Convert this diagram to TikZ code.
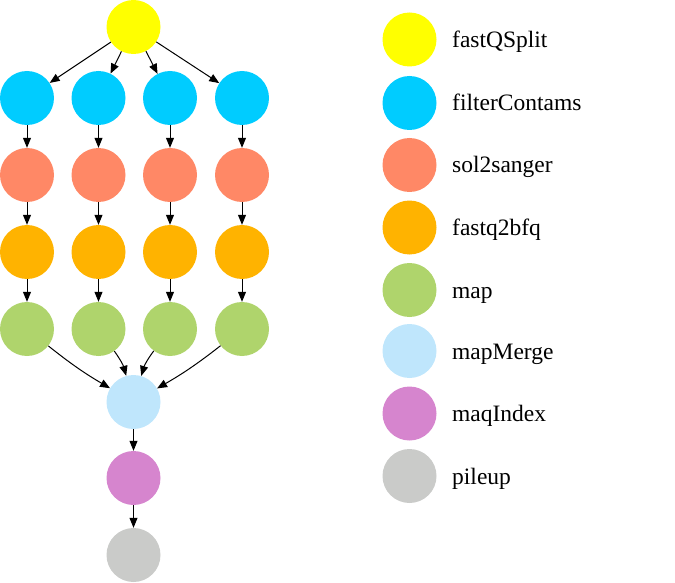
\documentclass[tikz,border=0pt]{standalone}
\usepackage{fontspec}
\setmainfont{Liberation Serif}
\usetikzlibrary{arrows.meta}

\definecolor{splitcol}{HTML}{FFFF00}
\definecolor{filtcol}{HTML}{00CCFF}
\definecolor{solcol}{HTML}{FF8866}
\definecolor{bfqcol}{HTML}{FFB300}
\definecolor{mapcol}{HTML}{AFD46C}
\definecolor{mergecol}{HTML}{BFE6FC}
\definecolor{indexcol}{HTML}{D685CE}
\definecolor{pileupcol}{HTML}{CACBC9}

\begin{document}
\begin{tikzpicture}
        [x=1pt, y=-1pt, job/.style={circle, minimum size=54pt, inner sep=0pt},
        edge/.style={line width=1pt, black, -{Triangle[length=10pt, width=8pt]}},
        legendtext/.style={anchor=base west, inner sep=0pt, font=\fontsize{23.5}{28}\selectfont}]

        \useasboundingbox (0,0) rectangle (675,583);

        \node[job, fill=splitcol] (split) at (133.5,27) {};

        \node[job, fill=filtcol] (filt1) at (27,98) {};
        \node[job, fill=filtcol] (filt2) at (98.5,98) {};
        \node[job, fill=filtcol] (filt3) at (170,98) {};
        \node[job, fill=filtcol] (filt4) at (242,98) {};

        \node[job, fill=solcol] (sol1) at (27,175) {};
        \node[job, fill=solcol] (sol2) at (98.5,175) {};
        \node[job, fill=solcol] (sol3) at (170,175) {};
        \node[job, fill=solcol] (sol4) at (242,175) {};

        \node[job, fill=bfqcol] (bfq1) at (27,252) {};
        \node[job, fill=bfqcol] (bfq2) at (98.5,252) {};
        \node[job, fill=bfqcol] (bfq3) at (170,252) {};
        \node[job, fill=bfqcol] (bfq4) at (242,252) {};

        \node[job, fill=mapcol] (map1) at (27,329) {};
        \node[job, fill=mapcol] (map2) at (98.5,329) {};
        \node[job, fill=mapcol] (map3) at (170,329) {};
        \node[job, fill=mapcol] (map4) at (242,329) {};

        \node[job, fill=mergecol] (merge) at (133.5,402) {};
        \node[job, fill=indexcol] (index) at (133.5,478) {};
        \node[job, fill=pileupcol] (pileup) at (133.5,555) {};

        % split into four lanes
        \draw[edge] (split) -- (filt1);
        \draw[edge] (split) -- (filt2);
        \draw[edge] (split) -- (filt3);
        \draw[edge] (split) -- (filt4);

        % each lane top to bottom
        \draw[edge] (filt1) -- (sol1);
        \draw[edge] (filt2) -- (sol2);
        \draw[edge] (filt3) -- (sol3);
        \draw[edge] (filt4) -- (sol4);
        \draw[edge] (sol1) -- (bfq1);
        \draw[edge] (sol2) -- (bfq2);
        \draw[edge] (sol3) -- (bfq3);
        \draw[edge] (sol4) -- (bfq4);
        \draw[edge] (bfq1) -- (map1);
        \draw[edge] (bfq2) -- (map2);
        \draw[edge] (bfq3) -- (map3);
        \draw[edge] (bfq4) -- (map4);

        % lanes join again
        \draw[edge] (map1) to[bend right=4] (merge);
        \draw[edge] (map2) to[bend left=10] (merge);
        \draw[edge] (map3) to[bend right=10] (merge);
        \draw[edge] (map4) to[bend left=4] (merge);
        \draw[edge] (merge) -- (index);
        \draw[edge] (index) -- (pileup);

        % legend
        \node[job, fill=splitcol] (lsplit) at (409.5,39.5) {};
        \node[job, fill=filtcol] (lfilt) at (409.5,103) {};
        \node[job, fill=solcol] (lsol) at (409.5,165) {};
        \node[job, fill=bfqcol] (lbfq) at (409.5,227.5) {};
        \node[job, fill=mapcol] (lmap) at (409.5,290) {};
        \node[job, fill=mergecol] (lmerge) at (409.5,351) {};
        \node[job, fill=indexcol] (lindex) at (409.5,413.5) {};
        \node[job, fill=pileupcol] (lpileup) at (409.5,476) {};

        \node[legendtext] (tsplit) at (452,47.5) {fastQSplit};
        \node[legendtext] (tfilt) at (452,111) {filterContams};
        \node[legendtext] (tsol) at (452,173) {sol2sanger};
        \node[legendtext] (tbfq) at (452,235.5) {fastq2bfq};
        \node[legendtext] (tmap) at (452,298) {map};
        \node[legendtext] (tmerge) at (452,359) {mapMerge};
        \node[legendtext] (tindex) at (452,421.5) {maqIndex};
        \node[legendtext] (tpileup) at (452,484) {pileup};

        \end{tikzpicture}
\end{document}
